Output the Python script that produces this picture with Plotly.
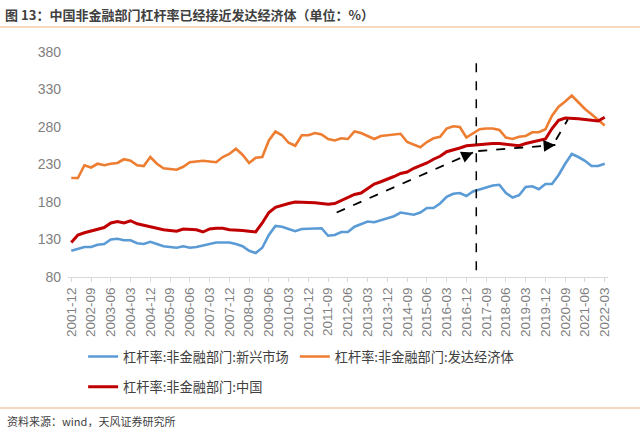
import plotly.graph_objects as go

# Quarterly categories 2001-12 .. 2022-03
quarters = [f"{y}-{m:02d}" for y in range(2001, 2023) for m in (3, 6, 9, 12)]
quarters = quarters[quarters.index("2001-12"):quarters.index("2022-03") + 1]

tick_labels = ["2001-12", "2002-09", "2003-06", "2004-03", "2004-12", "2005-09", "2006-06",
               "2007-03", "2007-12", "2008-09", "2009-06", "2010-03", "2010-12", "2011-09",
               "2012-06", "2013-03", "2013-12", "2014-09", "2015-06", "2016-03", "2016-12",
               "2017-09", "2018-06", "2019-03", "2019-12", "2020-09", "2021-06", "2022-03"]

emerging = [115, 117, 120, 120, 123, 124, 130, 131, 129, 129, 125, 124, 127, 124, 121, 120,
            119, 121, 119, 120, 122, 124, 126, 126, 126, 124, 121, 115, 112, 119, 136, 148,
            147, 144, 141, 144, 144, 144, 145, 135, 136, 140, 140, 147, 150, 154, 153, 156,
            158, 161, 166, 164, 163, 166, 172, 172, 178, 187, 191, 192, 188, 194, 197, 200,
            202, 203, 192, 186, 189, 200, 201, 197, 204, 204, 216, 231, 244, 240, 235, 228,
            228, 231]

developed = [212, 212, 229, 226, 231, 229, 231, 232, 237, 235, 229, 228, 240, 231, 225, 224,
             223, 227, 233, 234, 235, 234, 233, 240, 244, 251, 243, 232, 239, 240, 262, 274,
             269, 259, 255, 269, 269, 272, 270, 264, 262, 265, 264, 274, 272, 268, 264, 268,
             269, 271, 271, 260, 257, 253, 260, 265, 267, 278, 281, 280, 266, 271, 277, 278,
             278, 276, 266, 264, 267, 268, 273, 273, 277, 295, 307, 314, 322, 313, 304, 297,
             289, 282]

china = [126, 136, 139, 141, 143, 146, 152, 154, 152, 155, 151, 149, 146, 145, 143, 142,
         141, 144, 144, 143, 140, 144, 145, 145, 143, 143, 142, 141, 140, 152, 166, 173,
         176, 178, 180, 180, 179, 179, 178, 177, 178, 182, 186, 190, 192, 198, 204, 207,
         210, 214, 218, 220, 225, 228, 232, 237, 241, 247, 249, 252, 255, 256, 257, 257,
         258, 258, 257, 256, 255, 258, 260, 261, 264, 278, 289, 292, 292, 291, 290, 289,
         288, 293]

names = ["杠杆率:非金融部门:新兴市场", "杠杆率:非金融部门:发达经济体", "杠杆率:非金融部门:中国"]

FONT = "Liberation Sans, Noto Sans CJK SC, sans-serif"
CJK = "Noto Sans CJK SC, sans-serif"

fig = go.Figure()
fig.add_trace(go.Scatter(x=quarters, y=emerging, name=names[0], mode="lines",
                         line=dict(color="#5B9BD5", width=2.6), legend="legend"))
fig.add_trace(go.Scatter(x=quarters, y=developed, name=names[1], mode="lines",
                         line=dict(color="#ED7D31", width=2.6), legend="legend3"))
fig.add_trace(go.Scatter(x=quarters, y=china, name=names[2], mode="lines",
                         line=dict(color="#C00000", width=3), legend="legend2"))

shapes = []
# vertical dashed divider
shapes.append(dict(type="line", xref="x", yref="y", x0=61.5, x1=61.5, y0=89, y1=372,
                   line=dict(color="black", width=1.5, dash="dash")))
# dashed arrow bodies
arrows = [((40.3, 166), (61.0, 246)), ((61.8, 248), (73.5, 256)), ((73.6, 263), (75.4, 290))]
annotations = []
for (sx, sy), (ex, ey) in arrows:
    shapes.append(dict(type="line", xref="x", yref="y", x0=sx, y0=sy, x1=ex, y1=ey,
                       line=dict(color="black", width=1.8, dash="dash")))
    fx = ex - (ex - sx) * 0.06
    fy = ey - (ey - sy) * 0.06
    annotations.append(dict(x=ex, y=ey, ax=fx, ay=fy, xref="x", yref="y", axref="x", ayref="y",
                            text="", showarrow=True, arrowhead=2, arrowsize=1.3,
                            arrowwidth=1.8, arrowcolor="black", standoff=0))
# separator lines
for yy in (1.111, -0.582):
    shapes.append(dict(type="line", xref="paper", yref="paper", x0=-0.13, x1=1.07, y0=yy, y1=yy,
                       line=dict(color="#F6D8BF", width=2)))

annotations.append(dict(text="资料来源：wind，天风证券研究所", xref="paper", yref="paper",
                        x=-0.117, y=-0.64, xanchor="left", yanchor="middle", showarrow=False,
                        font=dict(family=CJK, size=11, color="#404040")))

legend_font = dict(family=CJK, size=13.2, color="#404040")
fig.update_layout(
    width=640, height=440,
    margin=dict(l=68, r=32, t=52, b=163),
    paper_bgcolor="white", plot_bgcolor="white",
    font=dict(family=FONT, color="#595959"),
    title=dict(text="<b>图 13：中国非金融部门杠杆率已经接近发达经济体（单位：%）</b>",
               x=0.008, xanchor="left", xref="container", y=0.966, yanchor="middle",
               yref="container", font=dict(family=CJK, size=13, color="#404040")),
    xaxis=dict(type="category", range=[-0.5, 81.5], tickmode="array", tickvals=tick_labels,
               ticktext=tick_labels, tickangle=-90, tickfont=dict(size=13.5, color="#7F7F7F"),
               showline=True, linecolor="#D9D9D9", linewidth=1, ticks="outside",
               ticklen=4, tickcolor="#D9D9D9", showgrid=False, zeroline=False),
    yaxis=dict(range=[80, 380], tickvals=[80, 130, 180, 230, 280, 330, 380],
               tickfont=dict(size=14, color="#7F7F7F"), showgrid=False, zeroline=False,
               showline=False, ticks="", ticklabelstandoff=6),
    showlegend=True,
    legend=dict(orientation="h", x=0.028, xanchor="left", y=-0.286, yanchor="top",
                itemwidth=30, font=legend_font, bgcolor="rgba(0,0,0,0)"),
    legend3=dict(orientation="h", x=0.42, xanchor="left", y=-0.286, yanchor="top",
                 itemwidth=30, font=legend_font, bgcolor="rgba(0,0,0,0)"),
    legend2=dict(orientation="h", x=0.028, xanchor="left", y=-0.421, yanchor="top",
                 itemwidth=30, font=legend_font, bgcolor="rgba(0,0,0,0)"),
    shapes=shapes, annotations=annotations,
)

fig.write_html("out.html", config={"displayModeBar": False},
               post_script="document.body.style.margin='0px';")
